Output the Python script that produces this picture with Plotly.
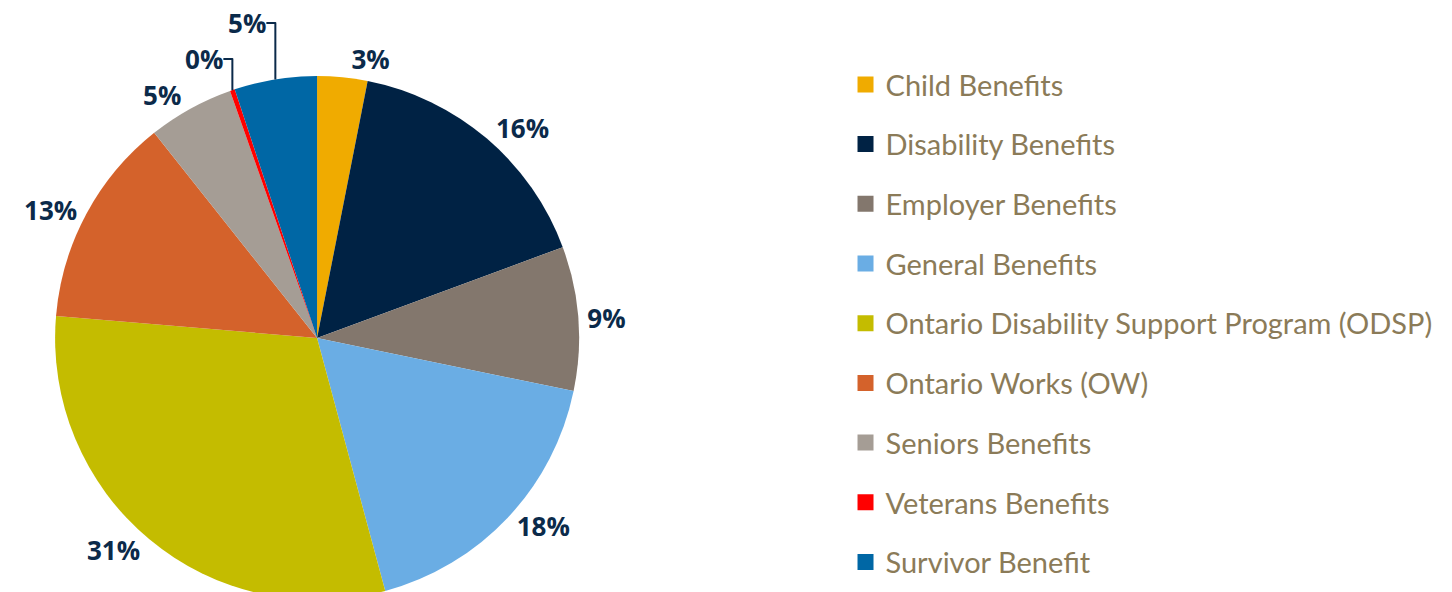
import plotly.graph_objects as go

labels = ["Child Benefits", "Disability Benefits", "Employer Benefits", "General Benefits",
          "Ontario Disability Support Program (ODSP)", "Ontario Works (OW)",
          "Seniors Benefits", "Veterans Benefits", "Survivor Benefit"]
shares = [3.1, 16.3, 8.9, 17.6, 30.6, 13.0, 5.3, 0.3, 5.1]
colors = ["#F0AB00", "#002244", "#83776D", "#6AADE4", "#C4BC00",
          "#D4622B", "#A59D95", "#FF0000", "#0067A5"]

LABEL_COLOR = "#0B2A4A"
LEGEND_COLOR = "#8B7B58"

fig = go.Figure()

fig.add_trace(go.Pie(
    labels=labels, values=shares, sort=False, direction="clockwise",
    marker=dict(colors=colors, line=dict(width=0)),
    texttemplate="%{percent:.0%}", textposition="outside",
    outsidetextfont=dict(family="Open Sans", size=26, color=LABEL_COLOR, weight="bold"),
    domain=dict(x=[0.0324, 0.3933], y=[0.0, 0.885]),
    showlegend=False, hoverinfo="label+percent", automargin=False,
))

# legend built from dummy traces so spacing between items can be controlled
for i, (name, c) in enumerate(zip(labels, colors)):
    fig.add_trace(go.Scatter(
        x=[None], y=[None], mode="markers", name=name,
        marker=dict(symbol="square", size=16, color=c),
        legendgroup=f"g{i}", showlegend=True,
    ))

fig.update_layout(
    width=1452, height=592,
    margin=dict(l=0, r=0, t=0, b=0, autoexpand=False),
    paper_bgcolor="white", plot_bgcolor="white",
    xaxis=dict(visible=False), yaxis=dict(visible=False),
    legend=dict(
        x=0.5768, y=0.467, xanchor="left", yanchor="middle",
        font=dict(family="Lato", size=29, color=LEGEND_COLOR),
        tracegroupgap=19, itemwidth=30,
    ),
)

fig.write_html("out.html")
